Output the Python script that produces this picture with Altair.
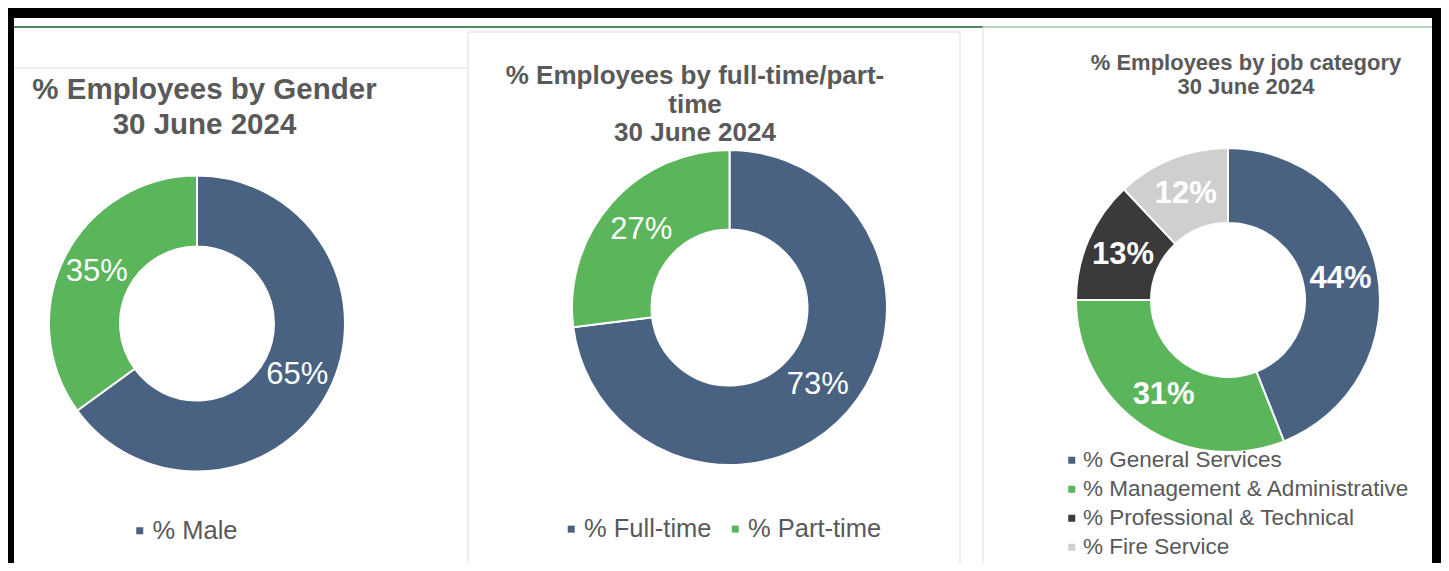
import altair as alt
import pandas as pd

# ---------------- data ----------------
gender_labels = ["% Male", "% Female"]
gender_values = [65, 35]

ft_labels = ["% Full-time", "% Part-time"]
ft_values = [73, 27]

job_labels = ["% General Services", "% Management & Administrative",
              "% Professional & Technical", "% Fire Service"]
job_values = [44, 31, 13, 12]

titles = ["% Employees by Gender\n30 June 2024",
          "% Employees by full-time/part-\ntime\n30 June 2024",
          "% Employees by job category\n30 June 2024"]

# ---------------- style ----------------
FONT = "Liberation Sans"
TXT = "#595959"
BLUE = "#4a6282"
GREEN = "#5ab55b"
DARK = "#3b3939"
LIGHT = "#d0cfcf"


def donut(labels, values, colors, cx, cy, r_out, r_in, lsize, lweight, legend):
    df = pd.DataFrame({
        "category": labels,
        "value": values,
        "order": list(range(len(labels))),
        "label": [f"{v}%" for v in values],
    })
    base = alt.Chart(df).encode(
        theta=alt.Theta("value:Q", stack=True),
        order=alt.Order("order:Q"),
        x=alt.value(cx),
        y=alt.value(cy),
    )
    arc = base.mark_arc(radius=r_out, radius2=r_in, stroke="white",
                        strokeWidth=2).encode(
        color=alt.Color("category:N",
                        scale=alt.Scale(domain=labels, range=colors),
                        legend=legend)
    )
    txt = base.mark_text(radius=(r_out + r_in) / 2, font=FONT, fontSize=lsize,
                         fontWeight=lweight, color="white").encode(
        text="label:N")
    return [arc, txt]


def leg(x, y, size, direction="vertical", values=None, row_pad=0, col_pad=0):
    kw = dict(orient="none", legendX=x, legendY=y, direction=direction,
              title=None, labelFont=FONT, labelFontSize=size, labelColor=TXT,
              symbolType="square", symbolSize=49, symbolStrokeWidth=0,
              padding=0, rowPadding=row_pad, columnPadding=col_pad,
              labelOffset=0, labelLimit=600)
    if values is not None:
        kw["values"] = values
    return alt.Legend(**kw)


def title(i, x, y, size, lh):
    df = pd.DataFrame({"t": [titles[i]]})
    return alt.Chart(df).mark_text(
        lineBreak="\n", lineHeight=lh, font=FONT, fontSize=size,
        fontWeight="bold", color=TXT, align="center", baseline="alphabetic"
    ).encode(x=alt.value(x), y=alt.value(y), text="t:N")


def rule(x1, y1, x2, y2, color, w=1):
    df = pd.DataFrame({"k": [0]})
    return alt.Chart(df).mark_rule(color=color, strokeWidth=w).encode(
        x=alt.value(x1), y=alt.value(y1), x2=alt.value(x2), y2=alt.value(y2))


layers = [
    rule(0, 9, 969, 9, "#4b8a5f", 2),
    rule(969, 9, 1418, 9, "#b7d6c3", 2),
    rule(0, 50, 454, 50, "#dcdcdc"),
    rule(454, 14, 454, 545, "#dcdcdc"),
    rule(454, 14, 946, 14, "#dcdcdc"),
    rule(946, 14, 946, 545, "#dcdcdc"),
    rule(969, 9, 969, 545, "#dcdcdc"),
    title(0, 190.5, 81, 29.5, 34.5),
    title(1, 681, 66, 26, 28.5),
    title(2, 1232, 52, 22, 24),
]

layers += donut(gender_labels, gender_values, [BLUE, GREEN], 183, 305.5, 148, 77,
                31, "normal", leg(113, 500, 25.5, values=["% Male"]))
layers += donut(ft_labels, ft_values, [BLUE, GREEN], 715.5, 289.5, 157.5, 78,
                31, "normal", leg(544.5, 498, 25.5, direction="horizontal", col_pad=10))
layers += donut(job_labels, job_values, [BLUE, GREEN, DARK, LIGHT], 1214, 282, 152, 77,
                31, "bold", leg(1046.5, 431, 22.5, row_pad=6))

chart = alt.layer(*layers).resolve_scale(
    color="independent", theta="independent"
).properties(
    width=1418, height=545,
    autosize=alt.AutoSizeParams(type="none"),
    padding={"left": 6, "top": 10, "right": 9, "bottom": 0},
    background="black",
).configure_view(fill="white", stroke=None)

chart.save("out.html", embed_options={"renderer": "svg", "actions": False})
